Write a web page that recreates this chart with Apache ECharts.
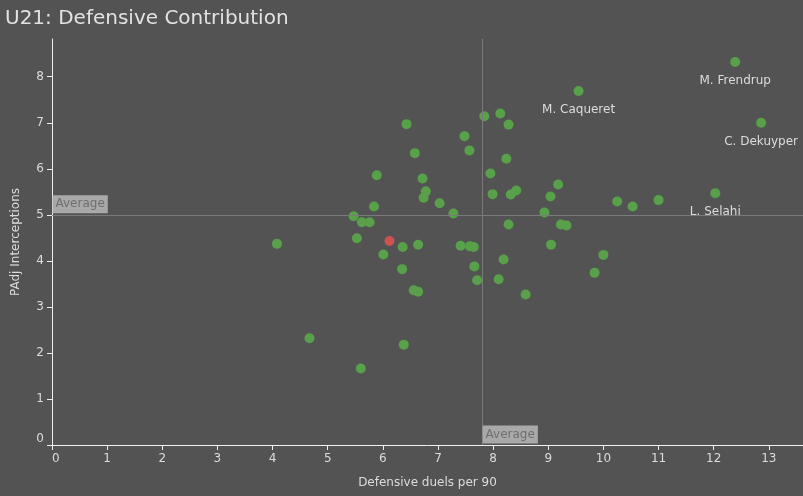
<!DOCTYPE html>
<html>
<head>
<meta charset="utf-8">
<script src="https://cdn.jsdelivr.net/npm/echarts@6/dist/echarts.min.js"></script>
<style>
  html, body { margin: 0; padding: 0; background: #535353; }
  #chart { width: 803px; height: 496px; }
</style>
</head>
<body>
<div id="chart"></div>
<script>
// defensive duels per 90 / padj interceptions, one entry per player
const duels = [12.39, 9.55, 12.86, 12.03, 7.84, 8.13, 8.28, 6.43, 7.48, 7.57,
  6.58, 8.24, 7.95, 6.72, 9.18, 6.78, 6.74, 8.42, 8.32, 7.99,
  9.04, 7.03, 7.28, 8.93, 10.25, 10.53, 11.00, 8.28, 9.23, 9.33,
  6.64, 7.41, 7.58, 7.65, 9.05, 6.36, 5.89, 5.84, 5.47, 5.62,
  5.76, 5.53, 4.08, 6.01, 4.67, 5.60, 6.35, 6.56, 6.64, 7.66,
  7.71, 8.19, 8.10, 8.59, 10.00, 9.84, 6.38];
const interceptions = [8.32, 7.69, 7.00, 5.47, 7.14, 7.20, 6.96, 6.97, 6.71, 6.40,
  6.34, 6.22, 5.90, 5.79, 5.66, 5.51, 5.37, 5.53, 5.44, 5.45,
  5.40, 5.25, 5.03, 5.05, 5.29, 5.18, 5.32, 4.79, 4.79, 4.77,
  4.35, 4.33, 4.32, 4.30, 4.35, 4.30, 5.86, 5.18, 4.97, 4.84,
  4.84, 4.49, 4.37, 4.14, 2.32, 1.66, 3.82, 3.36, 3.33, 3.88,
  3.58, 4.03, 3.60, 3.27, 4.13, 3.74, 2.18];
const names = ['M. Frendrup', 'M. Caqueret', 'C. Dekuyper', 'L. Selahi'];

const highlight = [6.12, 4.43];
const avgDuels = 7.8;
const avgInterceptions = 5.0;

const xTicks = [0, 1, 2, 3, 4, 5, 6, 7, 8, 9, 10, 11, 12, 13];
const yTicks = [0, 1, 2, 3, 4, 5, 6, 7, 8];

const points = duels.map((d, i) => ({
  value: [d, interceptions[i]],
  label: names[i] ? { show: true, formatter: names[i] } : undefined
}));

const font = 'DejaVu Sans';
const axisCol = '#f0f0f0';
const textCol = '#dcdcdc';

let chart = echarts.init(document.getElementById('chart'));

const avgLabel = {
  show: true,
  formatter: 'Average',
  position: [1, -1],
  align: 'left',
  verticalAlign: 'bottom',
  color: '#6e6e6e',
  backgroundColor: '#a9a9a9',
  padding: [3, 3, 3, 3],
  fontFamily: font,
  fontSize: 12
};

chart.setOption({
  backgroundColor: '#535353',
  animation: false,
  title: {
    text: 'U21: Defensive Contribution',
    left: 0,
    top: 4,
    textStyle: { color: '#e2e2e2', fontFamily: font, fontSize: 20, fontWeight: 'normal' }
  },
  grid: { left: 52, right: 0, top: 39, bottom: 51 },
  xAxis: {
    type: 'value',
    min: 0,
    max: 13.62,
    name: 'Defensive duels per 90',
    nameLocation: 'middle',
    nameGap: 32,
    nameTextStyle: { color: textCol, fontFamily: font, fontSize: 12 },
    splitLine: { show: false },
    axisLine: { show: true, lineStyle: { color: axisCol, width: 1 } },
    axisTick: { show: true, length: 5, customValues: xTicks, lineStyle: { color: axisCol } },
    axisLabel: { color: textCol, fontFamily: font, fontSize: 12, margin: 8,
      customValues: xTicks, alignMinLabel: 'left' }
  },
  yAxis: {
    type: 'value',
    min: 0,
    max: 8.82,
    name: 'PAdj Interceptions',
    nameLocation: 'middle',
    nameGap: 30,
    nameTextStyle: { color: textCol, fontFamily: font, fontSize: 12 },
    splitLine: { show: false },
    axisLine: { show: true, lineStyle: { color: axisCol, width: 1 } },
    axisTick: { show: true, length: 5, customValues: yTicks, lineStyle: { color: axisCol } },
    axisLabel: { color: textCol, fontFamily: font, fontSize: 12, margin: 8,
      customValues: yTicks, verticalAlignMinLabel: 'bottom' }
  },
  series: [
    {
      type: 'scatter',
      symbolSize: 10,
      itemStyle: { color: '#58a04a', opacity: 1 },
      label: {
        show: false,
        position: 'bottom',
        distance: 8,
        color: textCol,
        fontFamily: font,
        fontSize: 12
      },
      data: points,
      markLine: {
        silent: true,
        symbol: 'none',
        label: { show: false },
        lineStyle: { color: '#7a7a7a', width: 1, type: 'solid' },
        data: [{ xAxis: avgDuels }, { yAxis: avgInterceptions }]
      },
      markPoint: {
        silent: true,
        symbol: 'circle',
        symbolSize: 1,
        itemStyle: { color: 'rgba(0,0,0,0)' },
        data: [
          { coord: [avgDuels, 0], label: avgLabel },
          { coord: [0, avgInterceptions], label: avgLabel }
        ]
      }
    },
    {
      type: 'scatter',
      symbolSize: 10,
      itemStyle: { color: '#cd5252', opacity: 1 },
      data: [highlight]
    }
  ]
});
</script>
</body>
</html>
